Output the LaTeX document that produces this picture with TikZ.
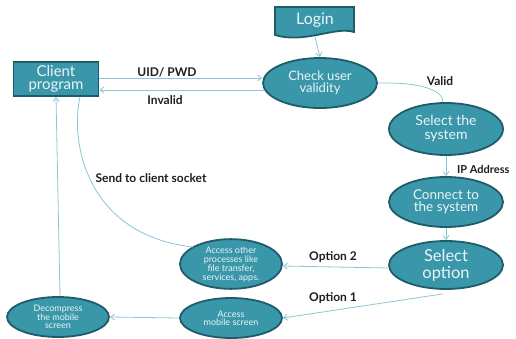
\documentclass[tikz,border=0pt]{standalone}
\usepackage{fontspec}
\setmainfont{Lato}
\usetikzlibrary{shapes.geometric,arrows.meta}
\definecolor{tealfill}{HTML}{3A97AA}
\definecolor{tealdark}{HTML}{1F5C69}
\definecolor{linec}{HTML}{8CC6D4}
\definecolor{txtw}{HTML}{EAF5F7}
\definecolor{lab}{HTML}{1E1E1E}
\begin{document}
\begin{tikzpicture}[x=1pt,y=-1pt,
  proc/.style={ellipse,fill=tealfill,draw=tealdark,line width=1.8pt,text=txtw,inner sep=0pt,align=center,font=\fontsize{13}{12.5}\selectfont},
  boxn/.style={rectangle,fill=tealfill,draw=tealdark,line width=1.8pt,text=txtw,inner sep=0pt,align=center},
  conn/.style={draw=linec,line width=0.8pt},
  arr/.style={conn,-{Straight Barb[length=4pt,width=6pt]}},
  lbl/.style={text=lab,inner sep=1pt,font=\fontsize{12}{13}\selectfont\bfseries}]
\useasboundingbox (0,0) rectangle (516,339);
% Login banner
\draw[fill=tealfill,draw=tealdark,line width=1.8pt] (275,7) -- (354,7) -- (354,32) .. controls (335,26) and (305,44) .. (275,35) -- cycle;
\node[text=txtw,font=\fontsize{16}{16}\selectfont] (login) at (315,20) {Login};
\coordinate (loginb) at (315,37);
% Client program
\node[boxn,minimum width=85pt,minimum height=34pt,font=\fontsize{15}{13.5}\selectfont] (client) at (56,79) {Client\\program};
% Ellipses
\node[proc,minimum width=114pt,minimum height=50pt] (check) at (320,83) {Check user\\validity};
\node[proc,minimum width=114pt,minimum height=52pt,font=\fontsize{14}{14}\selectfont] (selsys) at (446,129) {Select the\\system};
\node[proc,minimum width=114pt,minimum height=50pt,font=\fontsize{13.5}{12}\selectfont] (connect) at (446,202) {Connect to\\the system};
\node[proc,minimum width=114pt,minimum height=48pt,font=\fontsize{16.5}{17}\selectfont] (selopt) at (446,265) {Select\\option};
\node[proc,minimum width=102pt,minimum height=46pt,font=\fontsize{9}{9}\selectfont] (other) at (231,264) {Access other\\processes like\\file transfer,\\services, apps.};
\node[proc,minimum width=102pt,minimum height=40pt,font=\fontsize{9}{8}\selectfont] (mobile) at (231,318) {Access\\mobile screen};
\node[proc,minimum width=102pt,minimum height=40pt,font=\fontsize{9}{8.5}\selectfont] (decomp) at (58,317) {Decompress\\the mobile\\screen};
% Connectors
\draw[arr] (loginb) -- (check.north);
\draw[arr] (client.east |- 0,78) -- (check.west |- 0,78);
\draw[arr] (check.west |- 0,90) ++(2,0) -- (client.east |- 0,90);
\draw[conn] (check.east) .. controls (420,82) and (443,90) .. (selsys.north -| 443,0);
\draw[arr] (selsys.south) -- (connect.north);
\draw[arr] (connect.south) -- (selopt.north);
\draw[arr] (selopt.west |- 0,268) -- (other.east |- 0,266);
\draw[arr] (selopt.south) ++(-3,4) -- (mobile.east);
\draw[arr] (mobile.west) -- (decomp.east);
\draw[arr] (decomp.north) ++(2,0) -- (client.south);
\coordinate (otherc) at (193,247);
\draw[conn] (client.south -| 80,0) .. controls (70,140) and (85,235) .. (otherc);
% Labels
\node[lbl] (l1) at (167,72) {UID/ PWD};
\node[lbl] (l2) at (165,100) {Invalid};
\node[lbl] (l3) at (440,81) {Valid};
\node[lbl,anchor=west,font=\fontsize{11}{12}\selectfont\bfseries] (l4) at (456,169) {IP Address};
\node[lbl] (l5) at (151,178) {Send to client socket};
\node[lbl] (l6) at (333,257) {Option 2};
\node[lbl] (l7) at (333,298) {Option 1};
\end{tikzpicture}
\end{document}
